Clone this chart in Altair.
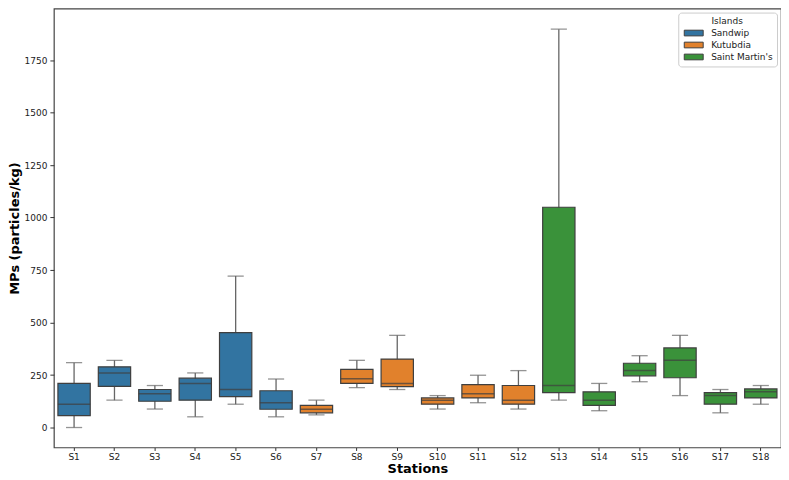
import altair as alt
import pandas as pd

stations = [f"S{i}" for i in range(1, 19)]
islands = ["Sandwip"] * 6 + ["Kutubdia"] * 6 + ["Saint Martin's"] * 6
island_order = ["Sandwip", "Kutubdia", "Saint Martin's"]
island_colors = ["#3274a1", "#e1812c", "#3a923a"]

whisker_low = [0, 130, 88, 51, 111, 51, 60, 190, 181, 88, 118, 88, 130, 80, 218, 152, 70, 111]
q1 = [57, 196, 125, 130, 147, 87, 70, 210, 195, 111, 141, 111, 166, 105, 246, 237, 111, 141]
median = [111, 260, 161, 210, 181, 118, 87, 232, 210, 130, 161, 130, 200, 130, 271, 320, 152, 170]
q3 = [210, 289, 181, 235, 452, 175, 105, 277, 326, 141, 204, 200, 1049, 170, 306, 379, 166, 184]
whisker_high = [309, 320, 200, 260, 721, 231, 130, 320, 439, 152, 249, 271, 1897, 210, 342, 439, 181, 200]
y_ticks = [0, 250, 500, 750, 1000, 1250, 1500, 1750]

df = pd.DataFrame({
    "station": stations, "island": islands, "lo": whisker_low, "q1": q1,
    "median": median, "q3": q3, "hi": whisker_high,
})

W, H = 729, 440
band = W / len(stations)
box_w = band * 0.8
cap_w = box_w * 0.5

FONT = "DejaVu Sans"
EDGE = "#3f3f3f"
WHISK = "#666666"

x = alt.X(
    "station:N", sort=stations,
    scale=alt.Scale(paddingInner=0, paddingOuter=0),
    axis=alt.Axis(
        title="Stations", labelAngle=0, labelFontSize=9, labelColor="#222",
        titleFontSize=13, titleFontWeight="bold", titleColor="black",
        ticks=True, tickSize=3, tickColor="#333", domain=False,
        labelPadding=2, titlePadding=1,
    ),
)
y_scale = alt.Scale(domain=[-95, 1995], nice=False, zero=False)
y_axis = alt.Axis(
    title="MPs (particles/kg)", values=y_ticks, format="d", grid=False, labelFontSize=9,
    labelColor="#222", titleFontSize=13, titleFontWeight="bold", titleColor="black",
    tickSize=4, tickColor="#333", domain=False, labelPadding=3, titlePadding=3,
)

base = alt.Chart(df)

whisk = base.mark_rule(color=WHISK, strokeWidth=1.3).encode(
    x=x, y=alt.Y("lo:Q", scale=y_scale, axis=y_axis), y2="hi:Q"
)
box = base.mark_bar(
    stroke=EDGE, strokeWidth=1.2, width=alt.RelativeBandSize(0.8)
).encode(
    x=x, y=alt.Y("q1:Q", scale=y_scale), y2="q3:Q",
    color=alt.Color(
        "island:N",
        scale=alt.Scale(domain=island_order, range=island_colors),
        legend=alt.Legend(
            title="Islands", orient="top-right", offset=4,
            titleFontSize=9, titleFontWeight="normal", titleAnchor="middle",
            titleColor="#222", titlePadding=2,
            labelFontSize=9, labelColor="#222", labelOffset=12,
            symbolType="M-2,-0.6H2V0.6H-2Z", symbolSize=90, symbolOffset=6,
            symbolStrokeColor=EDGE, symbolStrokeWidth=1, symbolOpacity=1,
            strokeColor="#cccccc", fillColor="white", padding=4,
            cornerRadius=3, rowPadding=1,
        ),
    ),
)
med = base.mark_tick(color=EDGE, size=box_w, thickness=1.5).encode(
    x=x, y=alt.Y("median:Q", scale=y_scale)
)
cap_lo = base.mark_tick(color=WHISK, size=cap_w, thickness=1.3).encode(
    x=x, y=alt.Y("lo:Q", scale=y_scale)
)
cap_hi = base.mark_tick(color=WHISK, size=cap_w, thickness=1.3).encode(
    x=x, y=alt.Y("hi:Q", scale=y_scale)
)

chart = alt.layer(whisk, box, med, cap_lo, cap_hi).properties(
    width=W, height=H,
    padding={"left": 0, "top": 0, "right": 0, "bottom": 0},
).configure(font=FONT).configure_view(
    stroke="#444444", strokeWidth=1.2
)

chart.save("out.html", embed_options={"renderer": "svg", "actions": False})
